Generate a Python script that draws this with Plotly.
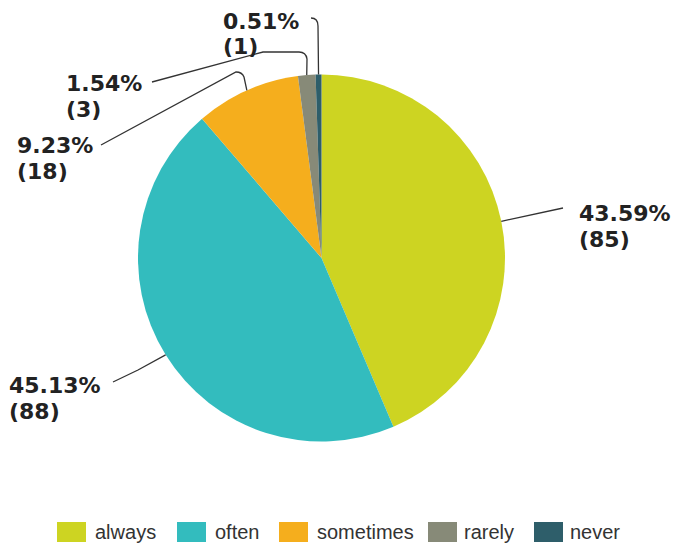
import math
import plotly.graph_objects as go

# ---- data ----
labels = ["always", "often", "sometimes", "rarely", "never"]
counts = [85, 88, 18, 3, 1]
colors = ["#CDD422", "#33BCBE", "#F5AE1D", "#878A78", "#2E5E6A"]

# ---- layout (pixels) ----
W, H = 676, 544
CX, CY, R = 321.5, 258.0, 183.5
label_x = [577, 7, 15, 64, 221]
label_y1 = [213, 385, 146, 83, 22]
label_y2 = [239, 411, 171, 110, 46]
# leader path tails after the slice-edge start point (SVG fragments in px)
leader_tail = [
    [("L", 563, 208)],
    [("L", 138, 370), ("L", 113, 382)],
    [("L", 244, 77), ("Q", 242, 72, 236, 72), ("L", 101, 145)],
    [("L", 307, 59), ("Q", 306, 52, 299, 52), ("L", 263, 52), ("L", 152, 82)],
    [("L", 318, 26), ("Q", 318, 18, 311, 18)],
]
legend_swatch_x = [57, 177, 279, 428, 534]
legend_text_x = [95, 215, 317, 464, 570]
legend_y = 532


def px(x):
    return x / W


def py(y):
    return 1 - y / H


total = sum(counts)
pcts = [f"{100 * c / total:.2f}%" for c in counts]

fig = go.Figure()
fig.add_trace(go.Pie(
    labels=labels, values=counts, sort=False, direction="clockwise", rotation=0,
    marker=dict(colors=colors, line=dict(width=0)),
    textinfo="none", showlegend=False, hoverinfo="label+value+percent",
    domain=dict(x=[px(CX - R), px(CX + R)], y=[py(CY + R), py(CY - R)]),
))

shapes = []
annotations = []
cum = 0
for i, c in enumerate(counts):
    mid = (cum + c / 2) / total * 2 * math.pi
    cum += c
    sx = CX + R * math.sin(mid)
    sy = CY - R * math.cos(mid)
    path = f"M {px(sx)},{py(sy)}"
    for seg in leader_tail[i]:
        if seg[0] == "L":
            path += f" L {px(seg[1])},{py(seg[2])}"
        else:
            path += f" Q {px(seg[1])},{py(seg[2])} {px(seg[3])},{py(seg[4])}"
    shapes.append(dict(type="path", xref="paper", yref="paper", path=path,
                       line=dict(color="#333333", width=1.3)))
    font = dict(family="DejaVu Sans", size=22, color="#222222")
    annotations.append(dict(x=px(label_x[i]), y=py(label_y1[i]), xref="paper", yref="paper",
                            text=f"<b>{pcts[i]}</b>", showarrow=False, xanchor="left",
                            yanchor="middle", font=font))
    annotations.append(dict(x=px(label_x[i]), y=py(label_y2[i]), xref="paper", yref="paper",
                            text=f"<b>({c})</b>", showarrow=False, xanchor="left",
                            yanchor="middle", font=font))

# custom legend
for i, lab in enumerate(labels):
    x0 = legend_swatch_x[i]
    shapes.append(dict(type="rect", xref="paper", yref="paper",
                       x0=px(x0), x1=px(x0 + 29), y0=py(legend_y + 10), y1=py(legend_y - 10),
                       fillcolor=colors[i], line=dict(width=0)))
    annotations.append(dict(x=px(legend_text_x[i] - 2), y=py(legend_y), xref="paper", yref="paper",
                            text=lab, showarrow=False, xanchor="left", yanchor="middle",
                            font=dict(family="Liberation Sans", size=20, color="#333333")))

fig.update_layout(
    width=W, height=H, margin=dict(l=0, r=0, t=0, b=0),
    paper_bgcolor="white", plot_bgcolor="white",
    shapes=shapes, annotations=annotations,
)
fig.write_html("out.html", config={"displayModeBar": False},
               post_script="document.body.style.margin='0px';")
